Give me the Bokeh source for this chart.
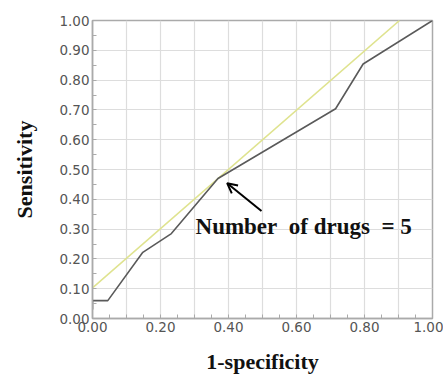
from bokeh.plotting import figure
from bokeh.models import Range1d, FixedTicker, Label, Arrow, OpenHead
from bokeh.embed import file_html
from bokeh.resources import INLINE

# ROC curve (1-specificity vs sensitivity)
fpr = [0.0, 0.0, 0.045, 0.148, 0.232, 0.369, 0.715, 0.796, 1.0]
tpr = [0.03, 0.06, 0.06, 0.222, 0.285, 0.470, 0.704, 0.854, 1.0]
# reference (tangent) line
ref_x = [0.0, 0.903]
ref_y = [0.103, 1.0]
# annotation
note_text = "Number\u00a0 of drugs\u00a0 =\u00a05"
arrow_tail = (0.497, 0.361)
arrow_head = (0.396, 0.454)
note_pos = (0.303, 0.266)

x_ticks = [i / 10 for i in range(11)]
y_ticks = [i / 10 for i in range(11)]
minor = [i / 20 for i in range(21)]

p = figure(width=443, height=376, output_backend="svg", toolbar_location=None,
           x_range=Range1d(0, 1), y_range=Range1d(0, 1),
           min_border_left=92, min_border_right=11, min_border_top=20, min_border_bottom=54)
p.background_fill_color = "white"
p.border_fill_color = "white"
p.outline_line_color = "#aaaaaa"
p.outline_line_width = 1.5

p.xaxis.ticker = FixedTicker(ticks=x_ticks, minor_ticks=minor)
p.yaxis.ticker = FixedTicker(ticks=y_ticks, minor_ticks=minor)
p.xaxis.major_label_overrides = {t: ("%.2f" % t if round(t * 10) % 2 == 0 else "") for t in x_ticks}
p.yaxis.major_label_overrides = {t: "%.2f" % t for t in y_ticks}

for ax in (p.xaxis, p.yaxis):
    ax.axis_line_color = "#aaaaaa"
    ax.axis_line_width = 1.5
    ax.major_tick_in = 0
    ax.major_tick_out = 0
    ax.minor_tick_in = 4
    ax.minor_tick_out = 0
    ax.minor_tick_line_color = "#aaaaaa"
    ax.major_label_text_font = "DejaVu Sans"
    ax.major_label_text_font_size = "13.5px"
    ax.major_label_text_color = "#555555"
    ax.axis_label_text_font = "Liberation Serif"
    ax.axis_label_text_font_style = "bold"
    ax.axis_label_text_font_size = "22px"
    ax.axis_label_text_color = "#111111"

p.xaxis.axis_label = "1-specificity"
p.yaxis.axis_label = "Sensitivity"
p.xaxis.major_label_standoff = 3
p.yaxis.major_label_standoff = 3
p.xaxis.axis_label_standoff = 14
p.yaxis.axis_label_standoff = 19

p.grid.grid_line_color = "#dddddd"
p.grid.grid_line_width = 1.2

p.line(ref_x, ref_y, line_color="#dfe38f", line_width=1.6)
p.line(fpr, tpr, line_color="#5a5a5a", line_width=1.6)

p.add_layout(Arrow(end=OpenHead(size=10, line_width=2, line_color="black"),
                   x_start=arrow_tail[0], y_start=arrow_tail[1],
                   x_end=arrow_head[0], y_end=arrow_head[1],
                   line_width=2, line_color="black"))
p.add_layout(Label(x=note_pos[0], y=note_pos[1], text=note_text,
                   text_font="Liberation Serif", text_font_style="bold",
                   text_font_size="23px", text_color="#111111"))

open("out.html", "w").write(file_html(p, INLINE))
